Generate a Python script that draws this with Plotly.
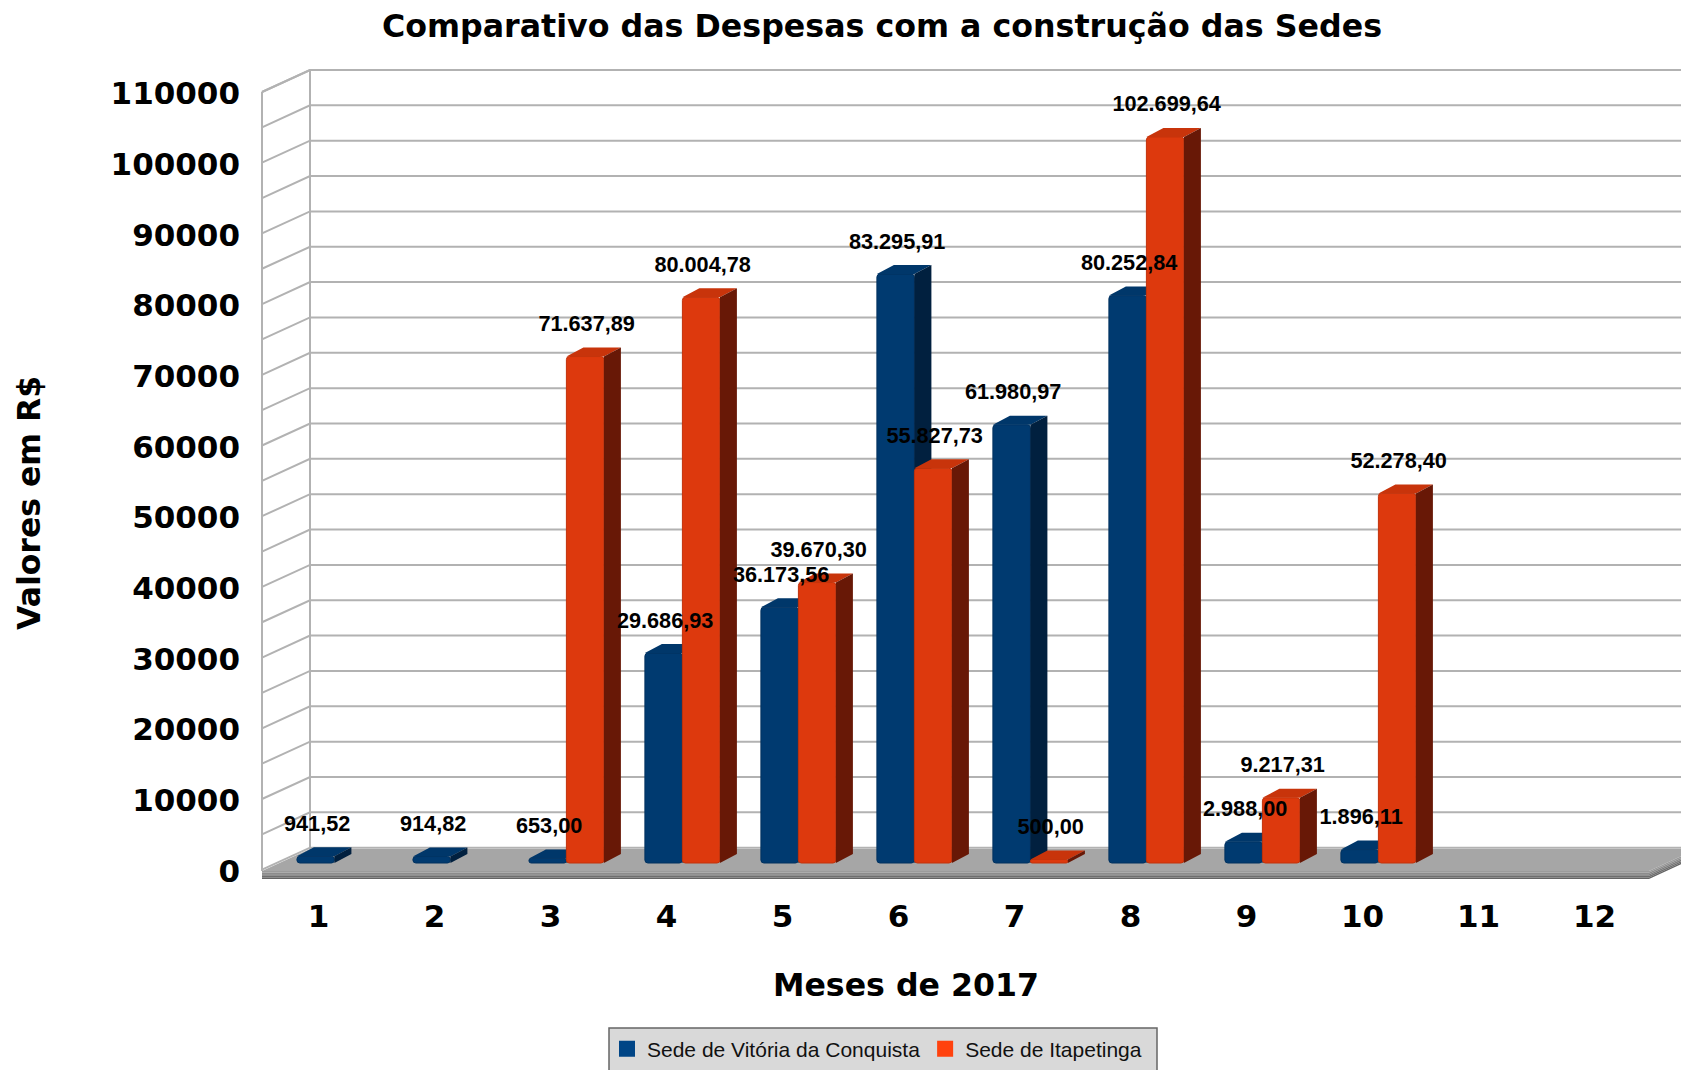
import plotly.graph_objects as go

months = list(range(1, 13))
month_labels = [str(m) for m in months]
vitoria = [941.52, 914.82, 653.00, 29686.93, 36173.56, 83295.91, 61980.97, 80252.84, 2988.00, 1896.11, None, None]
itapetinga = [None, None, 71637.89, 80004.78, 39670.30, 55827.73, 500.00, 102699.64, 9217.31, 52278.40, None, None]
y_ticks = list(range(0, 110001, 10000))
grid_values = list(range(0, 110001, 5000))

W, H = 1681, 1070
PL, PR, PT, PB = 258, 1681, 60, 880      # plot area in pixels
PX_PER_MONTH = 116.0
PX_PER_VALUE = 0.00707
M1 = 318.5                                # pixel of month 1 on the front plane
Y0 = 871                                  # pixel of value 0 on the front plane

def ux(px): return px / PX_PER_MONTH
def uy(px): return px / PX_PER_VALUE

x_range = [1 - ux(M1 - PL), 1 + ux(PR - M1)]
y_range = [-uy(PB - Y0), uy(Y0 - PT)]
x_left = 1 - ux(M1 - 262)
x_right = 1 + ux(1649 - M1)
WALL_DX, WALL_DY = ux(48), uy(22)
GRID_LIFT = uy(1.3)
x_far = x_right + WALL_DX

BAR_W = ux(37.5)
GROUP_SHIFT = ux(15.9)
LABEL_SHIFT = ux(1.5)
BASE = uy(8)
SIDE_DX, SIDE_DY = ux(17), uy(9)
LABEL_OFFSET = uy(31)

def paper_x(px): return (px - PL) / (PR - PL)
def paper_y(py): return (PB - py) / (PB - PT)

fig = go.Figure()

# ---- back / side walls and grid
gx, gy = [], []
for v in grid_values:
    gx += [x_left, x_left + WALL_DX, x_far, None]
    gy += [v + GRID_LIFT, v + GRID_LIFT + WALL_DY, v + GRID_LIFT + WALL_DY, None]
top = grid_values[-1] + GRID_LIFT
fig.add_trace(go.Scatter(x=gx, y=gy, mode="lines", line=dict(color="#b2b2b2", width=2),
                         showlegend=False, hoverinfo="skip"))
fig.add_trace(go.Scatter(x=[x_left, x_left + WALL_DX, x_far], y=[top, top + WALL_DY, top + WALL_DY], mode="lines",
                         line=dict(color="#b2b2b2", width=2), showlegend=False, hoverinfo="skip"))
fig.add_trace(go.Scatter(x=[x_left, x_left, None, x_left + WALL_DX, x_left + WALL_DX],
                         y=[0, top, None, WALL_DY, top + WALL_DY], mode="lines",
                         line=dict(color="#b2b2b2", width=2), showlegend=False, hoverinfo="skip"))

# ---- floor
fig.add_trace(go.Scatter(x=[x_left, x_left + WALL_DX, x_far, x_right, x_left],
                         y=[0, WALL_DY, WALL_DY, 0, 0], mode="lines", fill="toself",
                         fillcolor="#a6a6a6", line=dict(width=0), showlegend=False, hoverinfo="skip"))
strip_colors = ["#9b9b9b", "#8c8c8c", "#7c7c7c", "#6e6e6e", "#646464"]
for i, c in enumerate(strip_colors):
    a, b = -uy(i * 8 / 5), -uy((i + 1) * 8 / 5)
    fig.add_trace(go.Scatter(
        x=[x_left, x_right, x_far, x_far, x_right, x_left, x_left],
        y=[a, a, a + WALL_DY, b + WALL_DY, b, b, a],
        mode="lines", fill="toself", fillcolor=c, line=dict(width=0),
        showlegend=False, hoverinfo="skip"))


def add_series(values, centre_shift, front, edge, top_c, side_c, xa, ya):
    xs = [m + GROUP_SHIFT + centre_shift for m, v in zip(months, values) if v is not None]
    ys = [v for v in values if v is not None]
    fig.add_trace(go.Bar(x=xs, y=ys, base=[BASE] * len(ys), width=BAR_W, xaxis=xa, yaxis=ya,
                         marker=dict(color=front, line=dict(color=edge, width=1), cornerradius=3),
                         showlegend=False, hoverinfo="skip"))
    sx, sy, tx, ty = [], [], [], []
    for x, v in zip(xs, ys):
        L, R, T = x - BAR_W / 2, x + BAR_W / 2, BASE + v
        sx += [R, R + SIDE_DX, R + SIDE_DX, R, R, None]
        sy += [BASE, BASE + SIDE_DY, T + SIDE_DY, T, BASE, None]
        tx += [L, L + SIDE_DX, R + SIDE_DX, R, L, None]
        ty += [T, T + SIDE_DY, T + SIDE_DY, T, T, None]
    fig.add_trace(go.Scatter(x=tx, y=ty, mode="lines", fill="toself", fillcolor=top_c, line=dict(width=0),
                             xaxis=xa, yaxis=ya, showlegend=False, hoverinfo="skip"))
    fig.add_trace(go.Scatter(x=sx, y=sy, mode="lines", fill="toself", fillcolor=side_c, line=dict(width=0),
                             xaxis=xa, yaxis=ya, showlegend=False, hoverinfo="skip"))
    return xs, ys


def br(v):
    return f"{v:,.2f}".replace(",", "#").replace(".", ",").replace("#", ".")


bx, by = add_series(vitoria, -BAR_W / 2, "#003a70", "#00315f", "#00376a", "#01203f", "x2", "y2")
ox, oy = add_series(itapetinga, BAR_W / 2, "#dd390d", "#c2320b", "#c8340b", "#681806", "x3", "y3")

fig.add_trace(go.Scatter(
    x=[x + LABEL_SHIFT for x in bx + ox], y=[BASE + v + LABEL_OFFSET for v in by + oy],
    text=[br(v) for v in by + oy], mode="text", textposition="middle center",
    textfont=dict(family="Liberation Sans", size=21.7, color="black", weight="bold"),
    xaxis="x3", yaxis="y3", showlegend=False, hoverinfo="skip", cliponaxis=False))

# ---- legend entries
fig.add_trace(go.Scatter(x=[None], y=[None], mode="markers", name="Sede de Vitória da Conquista",
                         marker=dict(symbol="square", size=16, color="#004586")))
fig.add_trace(go.Scatter(x=[None], y=[None], mode="markers", name="Sede de Itapetinga",
                         marker=dict(symbol="square", size=16, color="#ff420e")))

BIG = "DejaVu Sans"
hidden = dict(visible=False, fixedrange=True)
fig.update_layout(
    width=W, height=H, autosize=False,
    margin=dict(l=PL, r=W - PR, t=PT, b=H - PB, pad=0, autoexpand=False),
    paper_bgcolor="white", plot_bgcolor="white",
    barmode="overlay",
    title=dict(text="Comparativo das Despesas com a construção das Sedes",
               x=882 / W, xanchor="center", y=1 - 26 / H, yanchor="middle",
               font=dict(family=BIG, size=31.7, color="black", weight="bold")),
    xaxis=dict(range=x_range, tickmode="array", tickvals=months, ticktext=month_labels,
               showgrid=False, zeroline=False, showline=False, ticks="", ticklabelstandoff=15,
               tickfont=dict(family=BIG, size=31, color="black", weight="bold"), fixedrange=True),
    yaxis=dict(range=y_range, tickmode="array", tickvals=y_ticks, ticktext=[str(t) for t in y_ticks],
               showgrid=False, zeroline=False, showline=False, ticks="", ticklabelstandoff=17,
               tickfont=dict(family=BIG, size=31, color="black", weight="bold"), fixedrange=True),
    xaxis2=dict(range=x_range, overlaying="x", anchor="y2", **hidden),
    yaxis2=dict(range=y_range, overlaying="y", anchor="x2", **hidden),
    xaxis3=dict(range=x_range, overlaying="x", anchor="y3", **hidden),
    yaxis3=dict(range=y_range, overlaying="y", anchor="x3", **hidden),
    legend=dict(orientation="h", x=paper_x(607), xanchor="left", y=paper_y(1049), yanchor="middle",
                bgcolor="rgba(0,0,0,0)", borderwidth=0,
                font=dict(family="Liberation Sans", size=21, color="#111111")),
    shapes=[dict(type="rect", xref="paper", yref="paper", layer="below",
                 x0=paper_x(609), x1=paper_x(1157), y0=paper_y(1080), y1=paper_y(1028),
                 fillcolor="#d9d9d9", line=dict(color="#666666", width=1.5))],
    annotations=[
        dict(text="Meses de 2017", xref="paper", yref="paper", x=paper_x(906), y=paper_y(985),
             showarrow=False, xanchor="center", yanchor="middle",
             font=dict(family=BIG, size=31.6, color="black", weight="bold")),
        dict(text="Valores em R$", xref="paper", yref="paper", x=paper_x(29), y=paper_y(503),
             showarrow=False, xanchor="center", yanchor="middle", textangle=-90,
             font=dict(family=BIG, size=31.5, color="black", weight="bold")),
    ],
)

fig.write_html("out.html", config=dict(displayModeBar=False),
               post_script="document.body.style.margin='0';document.body.style.overflow='hidden';")
